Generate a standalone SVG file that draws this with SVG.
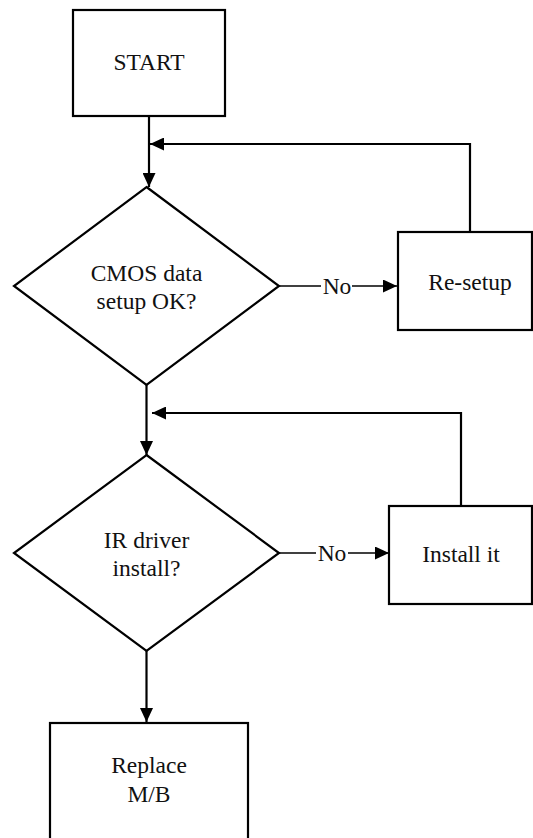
<svg xmlns="http://www.w3.org/2000/svg" width="533" height="838" viewBox="0 0 533 838">
<style>
.box{fill:#fff;stroke:#000;stroke-width:2.2}
.t{font-family:"Liberation Serif","Times New Roman",serif;font-size:23.5px;fill:#111;text-anchor:middle}
.c{fill:none;stroke:#000;stroke-width:2.2}
.n{fill:none;stroke:#000;stroke-width:1.4}
</style>
<defs>
<marker id="ah" viewBox="0 0 14 13" refX="14" refY="6.5" markerWidth="14" markerHeight="13" markerUnits="userSpaceOnUse" orient="auto">
<path d="M0,0 L14,6.5 L0,13 Z" fill="#000"/>
</marker>
</defs>
<rect width="533" height="838" fill="#fff"/>
<g id="connectors">
<path class="c" d="M149,116 V187" marker-end="url(#ah)"/>
<path class="c" d="M470,232 V144 H150" marker-end="url(#ah)"/>
<path class="n" d="M279,286 H321"/>
<path class="n" d="M352,286 H397" marker-end="url(#ah)"/>
<path class="c" d="M146.5,385 V455" marker-end="url(#ah)"/>
<path class="c" d="M461,506 V413 H152" marker-end="url(#ah)"/>
<path class="n" d="M279,553 H316"/>
<path class="n" d="M348,553 H389" marker-end="url(#ah)"/>
<path class="c" d="M146.5,651 V722" marker-end="url(#ah)"/>
<text class="t" x="337" y="294">No</text>
<text class="t" x="332" y="561">No</text>
</g>
<g id="start">
<rect class="box" x="73" y="10" width="152" height="106"/>
<text class="t" x="149" y="70">START</text>
</g>
<g id="cmos">
<polygon class="box" points="146.5,187 279,286 146.5,385 14,286"/>
<text class="t" x="146.5" y="281">CMOS data</text>
<text class="t" x="146.5" y="309">setup OK?</text>
</g>
<g id="resetup">
<rect class="box" x="398" y="232" width="134" height="98"/>
<text class="t" x="470" y="290">Re-setup</text>
</g>
<g id="ir">
<polygon class="box" points="146.5,455 279,553 146.5,651 14,553"/>
<text class="t" x="146.5" y="548">IR driver</text>
<text class="t" x="146.5" y="576">install?</text>
</g>
<g id="install">
<rect class="box" x="389" y="506" width="143" height="98"/>
<text class="t" x="461" y="562">Install it</text>
</g>
<g id="replace">
<rect class="box" x="50" y="723" width="198" height="130"/>
<text class="t" x="149" y="773">Replace</text>
<text class="t" x="149" y="802">M/B</text>
</g>
</svg>
